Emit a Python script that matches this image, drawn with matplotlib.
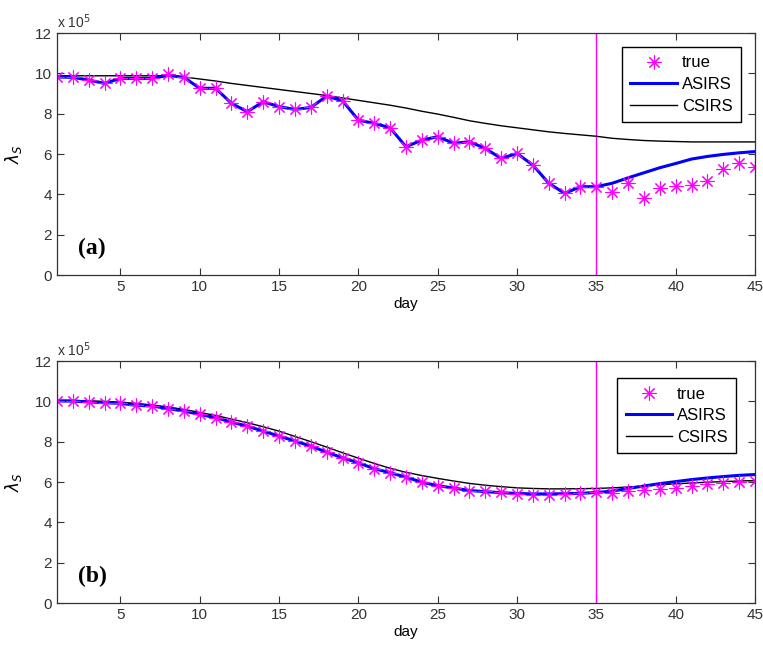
import matplotlib
matplotlib.use('Agg')

from matplotlib import pyplot as plt
from matplotlib import rc
import numpy as np

rc('font', family=['Liberation Sans', 'DejaVu Sans'])
rc('xtick', direction='in', top=True, labelsize=11)
rc('ytick', direction='in', right=True, labelsize=11)
rc('axes', linewidth=0.9, edgecolor='#333333')

days = np.arange(1, 46)

# panel (a), values in units of 1e5
true_a = [9.82, 9.80, 9.67, 9.50, 9.75, 9.75, 9.75, 9.97, 9.80, 9.26,
          9.26, 8.51, 8.10, 8.59, 8.35, 8.21, 8.31, 8.87, 8.64, 7.68,
          7.52, 7.30, 6.36, 6.69, 6.86, 6.53, 6.61, 6.28, 5.78, 6.03,
          5.45, 4.55, 4.05, 4.38, 4.38, 4.13, 4.58, 3.80, 4.30, 4.41,
          4.46, 4.68, 5.24, 5.54, 5.37]
asirs_a = [9.82, 9.80, 9.67, 9.50, 9.75, 9.75, 9.75, 9.90, 9.80, 9.26,
           9.26, 8.51, 8.10, 8.59, 8.35, 8.21, 8.31, 8.87, 8.64, 7.68,
           7.52, 7.30, 6.36, 6.69, 6.86, 6.53, 6.61, 6.28, 5.78, 6.03,
           5.45, 4.55, 4.05, 4.38, 4.38, 4.55, 4.82, 5.07, 5.32, 5.53,
           5.75, 5.88, 5.98, 6.06, 6.12]
csirs_a = [9.88, 9.88, 9.88, 9.88, 9.88, 9.88, 9.88, 9.88, 9.82, 9.72,
           9.62, 9.50, 9.40, 9.30, 9.20, 9.10, 9.00, 8.90, 8.78, 8.66,
           8.54, 8.42, 8.28, 8.12, 7.98, 7.82, 7.65, 7.52, 7.40, 7.30,
           7.20, 7.10, 7.02, 6.95, 6.88, 6.78, 6.72, 6.67, 6.64, 6.62,
           6.60, 6.60, 6.60, 6.60, 6.60]

# panel (b)
true_b = [10.02, 10.01, 9.97, 9.93, 9.90, 9.80, 9.77, 9.64, 9.52, 9.35,
          9.19, 8.97, 8.77, 8.52, 8.28, 8.03, 7.78, 7.48, 7.20, 6.95,
          6.66, 6.46, 6.24, 5.99, 5.79, 5.71, 5.54, 5.54, 5.49, 5.43,
          5.38, 5.38, 5.43, 5.46, 5.49, 5.46, 5.54, 5.59, 5.63, 5.71,
          5.79, 5.88, 5.93, 5.99, 6.04]
asirs_b = [10.02, 10.01, 9.97, 9.93, 9.90, 9.80, 9.77, 9.64, 9.52, 9.35,
           9.19, 8.97, 8.77, 8.52, 8.28, 8.03, 7.78, 7.48, 7.20, 6.95,
           6.66, 6.46, 6.24, 5.99, 5.82, 5.70, 5.58, 5.52, 5.47, 5.43,
           5.41, 5.41, 5.42, 5.44, 5.48, 5.55, 5.68, 5.80, 5.92, 6.02,
           6.12, 6.20, 6.27, 6.33, 6.37]
csirs_b = [10.05, 10.05, 10.02, 10.00, 9.96, 9.90, 9.82, 9.72, 9.60, 9.45,
           9.30, 9.12, 8.94, 8.74, 8.52, 8.26, 8.00, 7.73, 7.45, 7.18,
           6.92, 6.68, 6.48, 6.32, 6.18, 6.05, 5.93, 5.84, 5.77, 5.71,
           5.68, 5.66, 5.66, 5.67, 5.68, 5.71, 5.75, 5.80, 5.86, 5.91,
           5.95, 5.99, 6.02, 6.05, 6.07]

split_day = 35

fig = plt.figure(figsize=(7.63, 6.5), dpi=100)
ax1 = fig.add_axes([0.0747, 0.5769, 0.9148, 0.3723])
ax2 = fig.add_axes([0.0747, 0.0723, 0.9148, 0.3723])

panels = [(ax1, true_a, asirs_a, csirs_a, '(a)', (0.98, 0.942)),
          (ax2, true_b, asirs_b, csirs_b, '(b)', (0.973, 0.929))]

for ax, tr, asr, csr, tag, anchor in panels:
    ax.axvline(split_day, color='#ff00ff', lw=1)
    ax.plot(days, csr, color='k', lw=1, label='CSIRS')
    ax.plot(days, asr, color='#0000ff', lw=2.2, label='ASIRS')
    ax.plot(days, tr, ls='none', marker=(8, 2, 0), ms=10, mew=0.8,
            color='#ff00ff', label='true')
    ax.set_xlim(1, 45)
    ax.set_ylim(0, 12)
    ax.set_xticks([5, 10, 15, 20, 25, 30, 35, 40, 45])
    ax.set_yticks(range(0, 13, 2))
    ax.tick_params(colors='#333333', length=5, width=0.8)
    ax.set_xlabel('day', fontsize=11, labelpad=2)
    ax.set_ylabel(r'$\lambda_S$', fontsize=12, labelpad=8)
    ax.text(0, 1.01, r'x 10$^5$', transform=ax.transAxes, fontsize=10,
            color='#333333', va='bottom', ha='left')
    ax.text(2.3, 1.3, tag, fontsize=17, fontweight='bold',
            family='Liberation Serif', va='center')
    h, l = ax.get_legend_handles_labels()
    ax.legend(h[::-1], l[::-1], loc='upper right', fontsize=12,
              fancybox=False, edgecolor='k', framealpha=1,
              bbox_to_anchor=anchor, borderaxespad=0, borderpad=0.5,
              handlelength=2.8, handletextpad=0.3, labelspacing=0.4)

plt.savefig('out.png', dpi=100)
plt.close()
